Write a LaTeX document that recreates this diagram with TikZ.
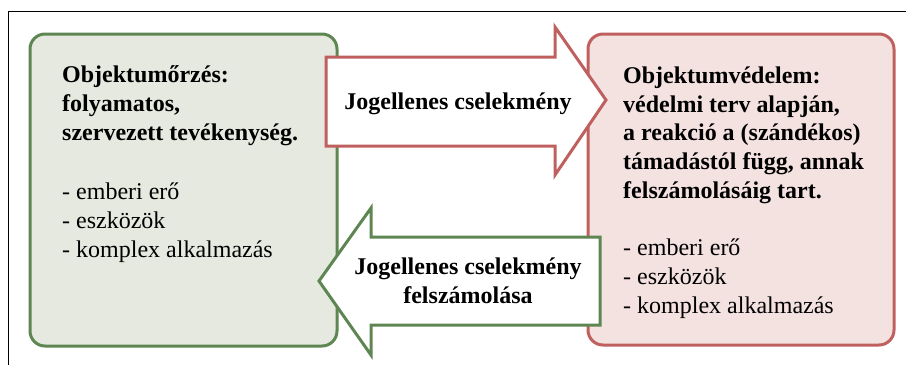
\documentclass[tikz,border=0pt]{standalone}
\usepackage{fontspec}
\setmainfont{Liberation Serif}
\definecolor{gstroke}{HTML}{5E8652}
\definecolor{gfill}{HTML}{E6E9E0}
\definecolor{rstroke}{HTML}{C0605E}
\definecolor{rfill}{HTML}{F4E2E1}
\begin{document}
\begin{tikzpicture}[x=1pt,y=-1pt,
  box/.style={line width=3pt, rounded corners=15pt},
  arr/.style={line width=3pt, fill=white, line join=miter},
  txt/.style={inner sep=0pt, anchor=base west, align=left,
    font=\fontsize{24}{28.6}\selectfont},
  atxt/.style={inner sep=0pt, align=center,
    font=\fontsize{24}{28.3}\selectfont\bfseries}]
\useasboundingbox (0,0) rectangle (906,365);
% frame
\draw[line width=1pt] (8,365) -- (8,11) coordinate (fc) -- (906,11);
% boxes
\draw[box, draw=gstroke, fill=gfill] (30,34) rectangle (337,346);
\draw[box, draw=rstroke, fill=rfill] (588,34) rectangle (894,345);
% right arrow
\draw[arr, draw=rstroke] (326,57) -- (555,57) -- (555,27) -- (606,100) -- (555,175) -- (555,146) -- (326,146) -- cycle;
% left arrow
\draw[arr, draw=gstroke] (600,237) -- (371,237) -- (371,208) -- (319,281) -- (371,355) -- (371,325) -- (600,325) -- cycle;
% texts (base anchor = last line baseline)
\node[txt] (lt) at (62,140) {\bfseries Objektumőrzés:\\\bfseries folyamatos,\\\bfseries szervezett tevékenység.};
\node[txt] (ll) at (62,257) {- emberi erő\\- eszközök\\- komplex alkalmazás};
\node[txt] (rt) at (623,198) {\bfseries Objektumvédelem:\\\bfseries védelmi terv alapján,\\\bfseries a reakció a (szándékos)\\\bfseries támadástól függ, annak\\\bfseries felszámolásáig tart.};
\node[txt] (rl) at (623,313) {- emberi erő\\- eszközök\\- komplex alkalmazás};
\node[atxt, anchor=base] (at1) at (458,109) {Jogellenes cselekmény};
\node[atxt, anchor=base] (at2) at (468,303) {Jogellenes cselekmény\\felszámolása};
\end{tikzpicture}
\end{document}
